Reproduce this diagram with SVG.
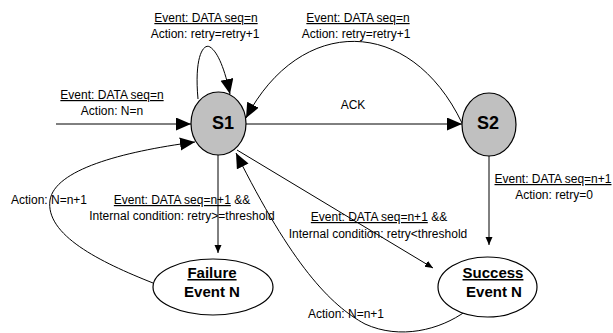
<svg xmlns="http://www.w3.org/2000/svg" width="613" height="333" viewBox="0 0 613 333">
<style>
text{font-family:"Liberation Sans",Arial,sans-serif;fill:#000;text-anchor:middle}
.s{font-size:12px}
.u{text-decoration:underline}
.st{font-size:18px;font-weight:bold}
.ev{font-size:15px;font-weight:bold}
.state{fill:#c0c0c0;stroke:#000;stroke-width:1.2}
.end{fill:#fff;stroke:#000;stroke-width:1.2}
.c{fill:none;stroke:#000;stroke-width:1}
.big{marker-end:url(#ab)}
.sm{marker-end:url(#as)}
</style>
<defs>
<marker id="ab" markerUnits="userSpaceOnUse" markerWidth="16" markerHeight="14" refX="15" refY="6.5" orient="auto"><path d="M0,0 L15,6.5 L0,13 z" fill="#000"/></marker>
<marker id="as" markerUnits="userSpaceOnUse" markerWidth="9" markerHeight="8" refX="8" refY="3.5" orient="auto"><path d="M0,0 L8,3.5 L0,7 z" fill="#000"/></marker>
</defs>
<rect width="613" height="333" fill="#fff"/>
<g id="connectors">
<path class="c big" d="M56,124 L191,124"/>
<path class="c big" d="M198,99 C194,55 204,43 210,47 C218,52 225,70 230,94"/>
<path class="c big" d="M462,123 C410,15 300,15 246,118"/>
<path class="c big" d="M246,124 L462,124"/>
<path class="c sm" d="M489,156 L489,245"/>
<path class="c sm" d="M218,155 L218,253"/>
<path class="c sm" d="M237,150 L433,268"/>
<path class="c big" d="M466,311 C440,330 400,340 365,324 C330,305 292,265 236,153"/>
<path class="c big" d="M153,283 C100,262 45,235 50,200 C55,170 120,152 195,142"/>
</g>
<g id="S1"><ellipse class="state" cx="218.5" cy="123.5" rx="27.5" ry="31.5"/><text class="st" x="223" y="129">S1</text></g>
<g id="S2"><ellipse class="state" cx="489" cy="124.5" rx="27" ry="31.5"/><text class="st" x="488" y="129">S2</text></g>
<g id="failure"><ellipse class="end" cx="213" cy="287" rx="60" ry="28"/><text class="ev u" x="212" y="278">Failure</text><text class="ev" x="212" y="297">Event N</text></g>
<g id="success"><ellipse class="end" cx="487.5" cy="287" rx="49.5" ry="30"/><text class="ev u" x="493" y="278">Success</text><text class="ev" x="494" y="297">Event N</text></g>
<g id="labels">
<text class="s u" x="206" y="22">Event: DATA seq=n</text>
<text class="s" x="205" y="38">Action: retry=retry+1</text>
<text class="s u" x="358" y="22">Event: DATA seq=n</text>
<text class="s" x="356" y="38">Action: retry=retry+1</text>
<text class="s u" x="112" y="99">Event: DATA seq=n</text>
<text class="s" x="112" y="115">Action: N=n</text>
<text class="s" x="353" y="109">ACK</text>
<text class="s u" x="553" y="183">Event: DATA seq=n+1</text>
<text class="s" x="554" y="199">Action: retry=0</text>
<text class="s" x="379" y="221"><tspan class="u">Event: DATA seq=n+1</tspan> &amp;&amp;</text>
<text class="s" x="378" y="238">Internal condition: retry&lt;threshold</text>
<text class="s" x="49" y="204">Action: N=n+1</text>
<text class="s" x="182" y="204"><tspan class="u">Event: DATA seq=n+1</tspan> &amp;&amp;</text>
<text class="s" x="182" y="220">Internal condition: retry&gt;=threshold</text>
<text class="s" x="346" y="318">Action: N=n+1</text>
</g>
</svg>
